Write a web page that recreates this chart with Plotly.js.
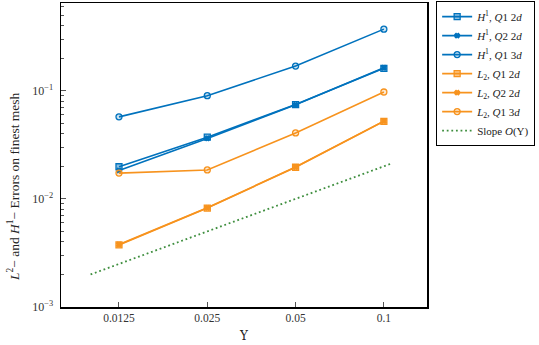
<!DOCTYPE html>
<html>
<head>
<meta charset="utf-8">
<script src="https://cdn.plot.ly/plotly-3.0.1.min.js"></script>
<style>html,body{margin:0;padding:0;background:#fff;}#chart{width:539px;height:345px;}</style>
</head>
<body>
<div id="chart"></div>
<script>
// Data
const upsilon = [0.0125, 0.025, 0.05, 0.1];
const h1_q1_2d = [0.0198, 0.0372, 0.0745, 0.161];
const h1_q2_2d = [0.0183, 0.0362, 0.0740, 0.163];
const h1_q1_3d = [0.0573, 0.0900, 0.169, 0.371];
const l2_q1_2d = [0.00375, 0.00822, 0.0196, 0.0521];
const l2_q2_2d = [0.00378, 0.00826, 0.0197, 0.0523];
const l2_q1_3d = [0.0173, 0.0185, 0.0407, 0.0973];
const slopeX = [0.01, 0.105];
const slopeY = [0.002, 0.021];
const xTicks = [0.0125, 0.025, 0.05, 0.1];
const xTickText = ['0.0125', '0.025', '0.05', '0.1'];
const yTicks = [0.001, 0.01, 0.1];
const yTickText = ['10<sup>−3</sup>', '10<sup>−2</sup>', '10<sup>−1</sup>'];
const yTitle = '<i>L</i><sup>2</sup>− and <i>H</i><sup>1</sup>− Errors on finest mesh';
const xTitle = 'Υ';

const blue = '#0072BD';
const orange = '#F7931E';
const green = '#3E8E3E';
const font = 'Liberation Serif, DejaVu Serif, serif';

function tr(name, y, color, symbol, fill) {
  return {
    x: upsilon, y: y, name: name, type: 'scatter', mode: 'lines+markers',
    line: {color: color, width: 1.6},
    marker: {symbol: symbol, size: symbol === 'x' ? 4 : 6, color: fill,
             line: {color: color, width: 1.3}}
  };
}

const traces = [
  tr('<i>H</i><sup>1</sup>, <i>Q</i>1 2<i>d</i>', h1_q1_2d, blue, 'square', 'rgba(0,114,189,0.45)'),
  tr('<i>H</i><sup>1</sup>, <i>Q</i>2 2<i>d</i>', h1_q2_2d, blue, 'x', blue),
  tr('<i>H</i><sup>1</sup>, <i>Q</i>1 3<i>d</i>', h1_q1_3d, blue, 'circle', 'rgba(0,114,189,0.2)'),
  tr('<i>L</i><sub>2</sub>, <i>Q</i>1 2<i>d</i>', l2_q1_2d, orange, 'square', 'rgba(247,147,30,0.55)'),
  tr('<i>L</i><sub>2</sub>, <i>Q</i>2 2<i>d</i>', l2_q2_2d, orange, 'x', orange),
  tr('<i>L</i><sub>2</sub>, <i>Q</i>1 3<i>d</i>', l2_q1_3d, orange, 'circle', 'rgba(247,147,30,0.2)'),
  {x: slopeX, y: slopeY, name: 'Slope <i>O</i>(Υ)', type: 'scatter', mode: 'lines',
   line: {color: green, width: 1.8, dash: '1.8px,2.8px'}}
];

const minorY = [];
for (let e = -3; e <= -1; e++) for (let d = 2; d <= 9; d++) minorY.push(d * Math.pow(10, e));

const layout = {
  width: 539, height: 345,
  margin: {l: 61, r: 112, t: 2, b: 38},
  paper_bgcolor: '#fff', plot_bgcolor: '#fff',
  font: {family: font, size: 11, color: '#222'},
  showlegend: true,
  legend: {x: 1.025, y: 1.003, xanchor: 'left', yanchor: 'top',
           bordercolor: '#000', borderwidth: 1, bgcolor: '#fff',
           font: {family: font, size: 11, color: '#222'},
           tracegroupgap: 0, itemwidth: 30},
  xaxis: {type: 'log', range: [-2.1008, -0.853],
          tickvals: xTicks, ticktext: xTickText,
          ticks: 'inside', ticklen: 5, tickcolor: '#555', tickwidth: 1,
          showgrid: false, zeroline: false,
          showline: true, mirror: true, linecolor: '#000', linewidth: 1.5,
          tickfont: {family: font, size: 11.5, color: '#333'},
          title: {text: xTitle, font: {family: 'DejaVu Serif, serif', size: 12, color: '#222'}, standoff: 8}},
  yaxis: {type: 'log', range: [-3, -0.189],
          tickvals: yTicks, ticktext: yTickText,
          ticks: 'inside', ticklen: 5, tickcolor: '#555', tickwidth: 1,
          ticklabelstandoff: 4,
          minor: {tickvals: minorY, ticks: 'inside', ticklen: 3, tickcolor: '#555', showgrid: false},
          showgrid: false, zeroline: false,
          showline: true, mirror: true, linecolor: '#000', linewidth: 1.5,
          tickfont: {family: font, size: 12, color: '#333'}},
  annotations: [{
    text: yTitle, textangle: -90, xref: 'paper', yref: 'paper',
    x: -0.128, y: 0.395, xanchor: 'center', yanchor: 'middle', showarrow: false,
    font: {family: font, size: 13.5, color: '#222'}
  }]
};

Plotly.newPlot('chart', traces, layout, {displayModeBar: false, staticPlot: true});
</script>
</body>
</html>
